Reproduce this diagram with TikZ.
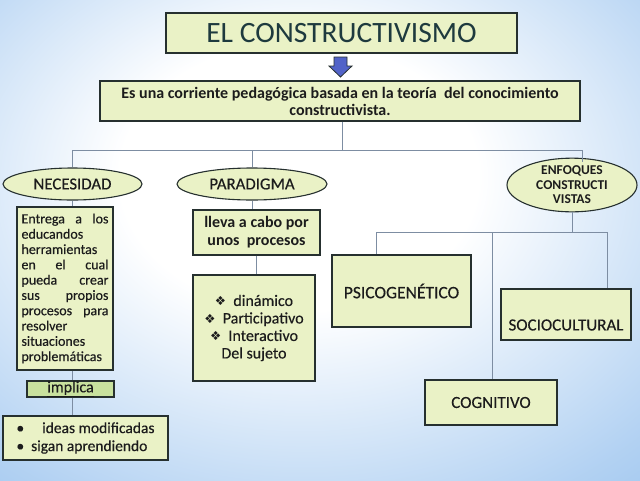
\documentclass[tikz,border=0pt]{standalone}
\usepackage{fontspec}
\setmainfont{Carlito}[FakeBold=0.4]
\newfontfamily\realbold{Carlito Bold}
\newfontfamily\realreg{Carlito}
\newfontfamily\symfont{DejaVu Sans}
\usetikzlibrary{shapes.geometric}
\definecolor{bgblue}{HTML}{7FB3EA}
\definecolor{boxfill}{HTML}{EAF2C6}
\definecolor{implfill}{HTML}{C8E19E}
\definecolor{edge}{HTML}{26302F}
\definecolor{conn}{HTML}{7D8DA2}
\definecolor{titlecol}{HTML}{1E3A3E}
\definecolor{txt}{HTML}{1C1C1C}
\definecolor{arrowblue}{HTML}{5263C8}
\pgfdeclareradialshading{bgshade}{\pgfpoint{-2bp}{8bp}}{color(0bp)=(white); color(14bp)=(white); color(36bp)=(bgblue!60); color(50bp)=(bgblue!92); color(80bp)=(bgblue)}
\newcommand{\dia}{{\symfont\fontsize{12.5}{12.5}\selectfont ❖}}
\begin{document}
\begin{tikzpicture}[x=1pt,y=-1pt,
  boxst/.style={draw=edge, line width=1.1pt, fill=boxfill, text=txt, inner sep=0pt, align=center},
  ellst/.style={ellipse, draw=edge, line width=1.1pt, fill=boxfill, text=txt, inner sep=0pt, align=center},
  conn/.style={draw=conn, line width=0.9pt}]
\useasboundingbox (0,0) rectangle (640,480);
\shade[shading=bgshade] (0,0) rectangle (640,480);
% title
\node[boxst, minimum width=351pt, minimum height=40pt, text=titlecol, font=\realreg\fontsize{29.5}{30}\selectfont] (title) at (341.5,33) {EL CONSTRUCTIVISMO};
% arrow
\draw[edge, line width=0.8pt, fill=arrowblue] (334,57) -- (347,57) -- (347,66) -- (352,66) -- (340.5,77) -- (329,66) -- (334,66) -- cycle;
\node[boxst, minimum width=480pt, minimum height=40pt, font=\fontsize{16}{17}\selectfont\realbold] (def) at (340,101) {Es una corriente pedagógica basada en la teoría\ \ del conocimiento\\constructivista.};
% ellipses
\node[ellst, minimum width=139pt, minimum height=32pt, font=\fontsize{16.8}{18}\selectfont] (nec) at (72.5,184) {NECESIDAD};
\node[ellst, minimum width=150pt, minimum height=32pt, font=\fontsize{16.8}{18}\selectfont] (par) at (252,184) {PARADIGMA};
\node[ellst, minimum width=130pt, minimum height=50pt, font=\fontsize{13.5}{14.5}\selectfont\realbold] (enf) at (572,185) {ENFOQUES\\CONSTRUCTI\\VISTAS};
% left column
\node[boxst, minimum width=96pt, minimum height=163pt, font=\fontsize{14}{15.3}\selectfont, align=left] (ent) at (65,288.5) {%
\parbox{87pt}{Entrega\hfill a\hfill los\\educandos\\herramientas\\en\hfill el\hfill cual\\pueda\hfill crear\\sus\hfill propios\\procesos\hfill para\\resolver\\situaciones\\problemáticas}};
\node[boxst, fill=implfill, minimum width=87pt, minimum height=16pt, font=\fontsize{16}{16}\selectfont] (impl) at (70.5,389) {\underline{implica}};
\node[boxst, minimum width=165pt, minimum height=44pt, font=\fontsize{15.5}{18}\selectfont, align=left] (ideas) at (85.5,438) {\textbullet\hspace{18pt}ideas modificadas\\\textbullet\hspace{7pt}sigan aprendiendo};
% middle column
\node[boxst, minimum width=127pt, minimum height=45pt, font=\fontsize{16}{18}\selectfont\realbold] (lleva) at (256.5,232.5) {lleva a cabo por\\unos\ \ procesos};
\node[boxst, minimum width=122pt, minimum height=106pt, font=\fontsize{16}{17.5}\selectfont] (din) at (254,328) {\dia\ \ dinámico\\\dia\ \ Participativo\\\dia\ \ Interactivo\\Del sujeto};
% right column
\node[boxst, minimum width=139pt, minimum height=72pt, font=\fontsize{17.5}{18}\selectfont] (psi) at (401.5,291) {PSICOGENÉTICO};
\node[boxst, minimum width=130pt, minimum height=51pt] (soc) at (566,314.5) {};
\node[text=txt, inner sep=0pt, font=\fontsize{17}{18}\selectfont] (soct) at (566,325) {SOCIOCULTURAL};
\node[boxst, minimum width=132pt, minimum height=45pt, font=\fontsize{17}{18}\selectfont] (cog) at (491,402.5) {COGNITIVO};
% connectors
\coordinate (hm) at (342,150);
\coordinate (hl) at (72,150);
\coordinate (hp) at (252,150);
\coordinate (hr) at (582,150);
\draw[conn] (def.south -| hm) -- (hm);
\draw[conn] (hl) -- (hr);
\draw[conn] (hl) -- (hl |- nec.north);
\draw[conn] (hp) -- (hp |- par.north);
\draw[conn] (hr) -- (582,161.5);
\draw[conn] (nec.south) -- (nec.south |- ent.north);
\draw[conn] (ent.south -| nec.south) -- (impl.north -| nec.south);
\draw[conn] (impl.south -| nec.south) -- (ideas.north -| nec.south);
\draw[conn] (par.south) -- (par.south |- lleva.north);
\draw[conn] (lleva.south) -- (din.north -| lleva.south);
\coordinate (el) at (376,232);
\coordinate (em) at (492,232);
\coordinate (er) at (607,232);
\draw[conn] (enf.south) -- (enf.south |- el);
\draw[conn] (el) -- (er);
\draw[conn] (el) -- (el |- psi.north);
\draw[conn] (em) -- (em |- cog.north);
\draw[conn] (er) -- (er |- soc.north);
\end{tikzpicture}
\end{document}
